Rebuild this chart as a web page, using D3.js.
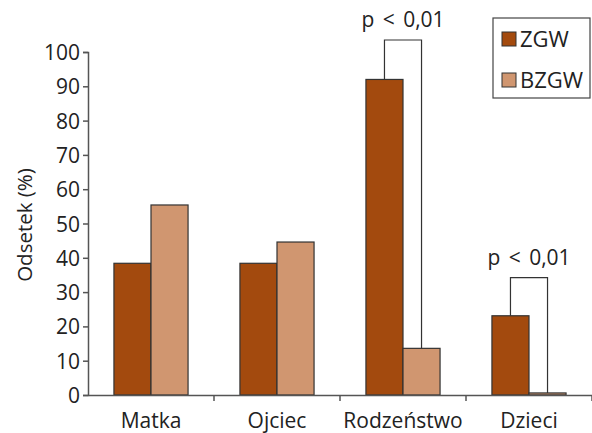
<!DOCTYPE html>
<html>
<head>
<meta charset="utf-8">
<script src="https://cdn.jsdelivr.net/npm/d3@7"></script>
<style>
  body { margin: 0; background: #fff; }
  svg text { font-family: "Open Sans", "Noto Sans", sans-serif; }
</style>
</head>
<body>
<div id="root"></div>
<script>
// dane
const categories = ["Matka", "Ojciec", "Rodzeństwo", "Dzieci"];
const seriesNames = ["ZGW", "BZGW"];
const zgw = [38.4, 38.4, 92.0, 23.1];
const bzgw = [55.4, 44.6, 13.6, 0.6];
const yTicks = [0, 10, 20, 30, 40, 50, 60, 70, 80, 90, 100];
// porównania istotne: kategoria, wysokość klamry, etykieta
const sigCats = ["Rodzeństwo", "Dzieci"];
const sigTops = [103.5, 34.2];
const sigLabels = ["p < 0,01", "p < 0,01"];

const width = 592;
const height = 433;
const colors = { ZGW: "#a34a0e", BZGW: "#d09670" };

const svg = d3.select("#root")
  .append("svg")
    .attr("width", width)
    .attr("height", height);

const x0 = d3.scaleBand()
  .domain(categories)
  .range([88, 592])
  .paddingInner(0)
  .paddingOuter(0);

const x1 = d3.scaleBand()
  .domain(seriesNames)
  .range([0, x0.bandwidth()])
  .paddingOuter(0.7)
  .paddingInner(0);

const y = d3.scaleLinear()
  .domain([0, 100])
  .range([395, 52]);

// oś Y
const yAxis = svg.append("g")
  .attr("transform", "translate(88,0)")
  .call(d3.axisLeft(y).tickValues(yTicks).tickSize(5).tickPadding(3));
yAxis.attr("font-family", null);
yAxis.select(".domain").attr("stroke", "#555").attr("stroke-width", 1.5);
yAxis.selectAll(".tick line").attr("stroke", "#555").attr("stroke-width", 1.5);
yAxis.selectAll(".tick text")
  .attr("fill", "#222")
  .style("font-size", "21px")
  .attr("dy", "0.36em");

svg.append("text")
  .text("Odsetek (%)")
  .attr("transform", "translate(32,225)rotate(-90)")
  .attr("text-anchor", "middle")
  .attr("fill", "#222")
  .style("font-size", "20.5px");

// słupki
const data = categories.map((c, i) => ({ cat: c, values: [
  { key: "ZGW", value: zgw[i] },
  { key: "BZGW", value: bzgw[i] }
]}));

const groups = svg.selectAll("g.group")
  .data(data)
  .enter()
  .append("g")
    .attr("class", "group")
    .attr("transform", d => `translate(${x0(d.cat)},0)`);

groups.selectAll("rect")
  .data(d => d.values)
  .enter()
  .append("rect")
    .attr("x", d => x1(d.key))
    .attr("y", d => y(d.value))
    .attr("width", x1.bandwidth())
    .attr("height", d => y(0) - y(d.value))
    .attr("fill", d => colors[d.key])
    .attr("stroke", "#333")
    .attr("stroke-width", 1.2);

// oś X
const xAxis = svg.append("g")
  .attr("transform", `translate(0,${y(0)})`)
  .call(d3.axisBottom(x0).tickSize(0).tickPadding(18));
xAxis.attr("font-family", null);
xAxis.select(".domain").attr("stroke", "#555").attr("stroke-width", 1.5);
xAxis.selectAll(".tick text")
  .attr("fill", "#222")
  .style("font-size", "21px");

// znaczniki między kategoriami
svg.append("g")
  .selectAll("line")
  .data(categories)
  .enter()
  .append("line")
    .attr("x1", d => x0(d) + x0.bandwidth())
    .attr("x2", d => x0(d) + x0.bandwidth())
    .attr("y1", y(0))
    .attr("y2", y(0) + 6)
    .attr("stroke", "#555")
    .attr("stroke-width", 1.5);

// klamry istotności
sigCats.forEach((c, i) => {
  const ia = categories.indexOf(c);
  const xa = x0(c) + x1("ZGW") + x1.bandwidth() / 2;
  const xb = x0(c) + x1("BZGW") + x1.bandwidth() / 2;
  const top = y(sigTops[i]);
  svg.append("path")
    .attr("d", `M${xa},${y(zgw[ia])}V${top}H${xb}V${y(bzgw[ia])}`)
    .attr("fill", "none")
    .attr("stroke", "#333")
    .attr("stroke-width", 1.2);
  svg.append("text")
    .text(sigLabels[i])
    .attr("x", (xa + xb) / 2)
    .attr("y", top - 13)
    .attr("text-anchor", "middle")
    .attr("fill", "#222")
    .style("word-spacing", "3px")
    .style("font-size", "21px");
});

// legenda
const legend = svg.append("g").attr("transform", "translate(493,18)");
legend.append("rect")
  .attr("width", 97)
  .attr("height", 80)
  .attr("fill", "#fff")
  .attr("stroke", "#444")
  .attr("stroke-width", 1.2);
const items = legend.selectAll("g.item")
  .data(seriesNames)
  .enter()
  .append("g")
    .attr("class", "item")
    .attr("transform", (d, i) => `translate(9,${14 + i * 41})`);
items.append("rect")
  .attr("width", 14)
  .attr("height", 14)
  .attr("fill", d => colors[d])
  .attr("stroke", "#333")
  .attr("stroke-width", 1);
items.append("text")
  .text(d => d)
  .attr("x", 18)
  .attr("y", 15)
  .attr("fill", "#222")
  .style("font-size", "22px");
</script>
</body>
</html>
